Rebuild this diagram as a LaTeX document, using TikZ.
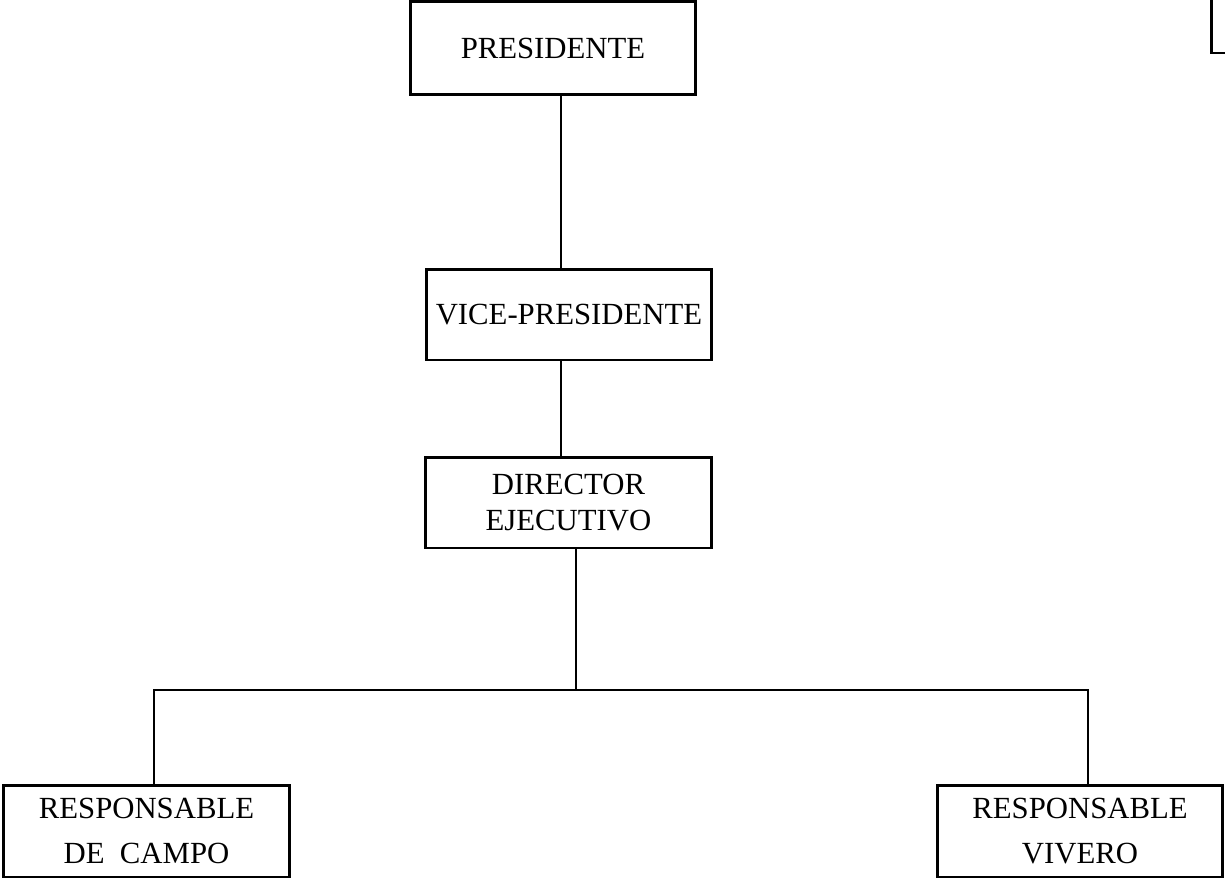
\documentclass[tikz,border=0pt]{standalone}
\usepackage{fontspec}
\setmainfont{Liberation Serif}
\usepackage{tikz}
\usetikzlibrary{positioning,calc}
\tikzset{
  office/.style={draw=black,fill=white,line width=1.7pt,align=center,inner sep=0pt,
    minimum width=5.72cm,minimum height=1.84cm,font=\fontsize{17.5}{20.5}\selectfont},
  tall/.style={font=\fontsize{17.5}{25.6}\selectfont},
  link/.style={draw=black,line width=1.5pt}
}
\begin{document}
\begin{tikzpicture}[x=0.02cm,y=-0.02cm]
        \useasboundingbox (0,0) rectangle (1225,879);
        \node[office,minimum height=1.86cm] (pres) at (553,48) {PRESIDENTE};
        \node[office,minimum height=1.82cm] (vice) at (569,314.5) {VICE-PRESIDENTE};
        \node[office,minimum height=1.82cm] (dir) at (568.5,502.5) {DIRECTOR\\EJECUTIVO};
        \node[office,tall] (campo) at (146.5,831) {RESPONSABLE\\DE~~CAMPO};
        \node[office,tall] (vivero) at (1080,831) {RESPONSABLE\\VIVERO};
        % axes of the connectors
        \coordinate (axa) at (561,0);
        \coordinate (axb) at (576,690);
        \coordinate (cdrop) at (154,690);
        \coordinate (vdrop) at (1088,690);
        \draw[link] (pres.south -| axa) -- (vice.north -| axa);
        \draw[link] (vice.south -| axa) -- (dir.north -| axa);
        \draw[link] (dir.south -| axb) -- (axb);
        \draw[link] (campo.north -| cdrop) -- (cdrop) -- (vdrop) -- (vivero.north -| vdrop);
        % box cut off at the top right corner
        \draw[line width=1.7pt] (1211,0) -- (1211,53) -- (1225,53);
      \end{tikzpicture}
\end{document}
